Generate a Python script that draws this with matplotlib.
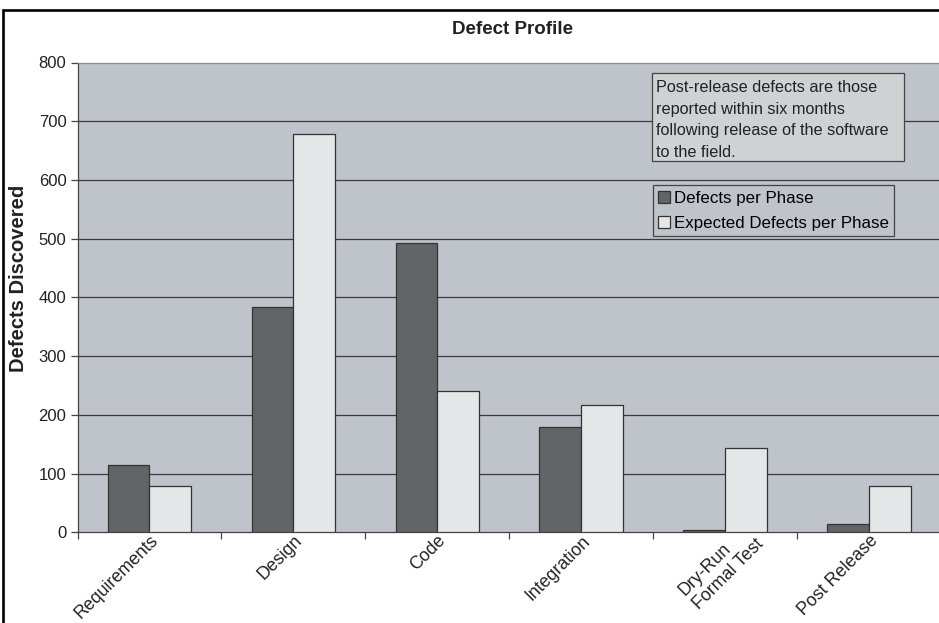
import matplotlib
matplotlib.use("Agg")
import matplotlib.pyplot as plt
from matplotlib.patches import Rectangle
import numpy as np

plt.rcParams['font.family'] = ['Liberation Sans', 'DejaVu Sans']

# phases and defect counts
phases = ["Requirements", "Design", "Code", "Integration", "Dry-Run\nFormal Test", "Post Release"]
defects = [114, 383, 493, 180, 4, 14]
expected = [78, 678, 241, 216, 144, 79]
y_ticks = [0, 100, 200, 300, 400, 500, 600, 700, 800]

W, H = 939, 623
fig = plt.figure(figsize=(W / 100, H / 100), dpi=100)
fig.patch.set_facecolor("white")

# plot area (runs slightly past the right edge)
ax = fig.add_axes([77.5 / W, 1 - 532.3 / H, (941 - 77.5) / W, (532.3 - 62.5) / H])
bg = "#bfc3ca"
ax.set_facecolor(bg)

x = np.arange(len(phases))
bw = 0.29
ax.bar(x - bw / 2, defects, bw, color="#636466", edgecolor="#333333", linewidth=0.9,
       label="Defects per Phase", zorder=3)
ax.bar(x + bw / 2, expected, bw, color="#e5e6e8", edgecolor="#333333", linewidth=0.9,
       label="Expected Defects per Phase", zorder=3)

ax.set_xlim(-0.5, len(phases) - 0.5)
ax.set_ylim(0, 800)
ax.set_yticks(y_ticks)
ax.tick_params(axis="y", direction="out", length=5, width=0.9, color="#444444",
               labelsize=12, pad=3, labelcolor="#222222")
for yv in y_ticks[1:-1]:
    ax.axhline(yv, color="#3a3a3a", linewidth=0.9, zorder=1)

# tick marks sit on the category boundaries
ax.set_xticks(x)
ax.set_xticklabels([])
ax.tick_params(axis="x", which="major", length=0)
ax.set_xticks(np.arange(len(phases) + 1) - 0.5, minor=True)
ax.tick_params(axis="x", which="minor", direction="out", length=5, width=0.9, color="#444444")

# rotated category labels; the two-line one is left aligned and pushed right
for i, lab in enumerate(phases):
    off = (16, 11) if "\n" in lab else (0, 0)
    ax.annotate(lab, xy=(x[i], 0), xycoords=ax.get_xaxis_transform(),
                xytext=off, textcoords="offset pixels",
                rotation=45, rotation_mode="anchor", ha="right", va="top",
                multialignment="left", fontsize=12.8, color="#222222",
                annotation_clip=False)

for s in ["left", "bottom"]:
    ax.spines[s].set_color("#444444")
    ax.spines[s].set_linewidth(0.9)
ax.spines["top"].set_color("#8c8c8c")
ax.spines["top"].set_linewidth(0.9)
ax.spines["right"].set_visible(False)

fig.text(513 / W, 1 - 29 / H, "Defect Profile", ha="center", va="center",
         fontsize=13.5, fontweight="bold", color="#222222")
fig.text(18.5 / W, 1 - 278 / H, "Defects Discovered", ha="center", va="center",
         rotation=90, fontsize=14.5, fontweight="bold", color="#222222")

# note box
fig.patches.append(Rectangle((651.7 / W, 1 - 161 / H), (904 - 651.7) / W, (161 - 73.3) / H,
                             transform=fig.transFigure, facecolor="#d0d1d3",
                             edgecolor="#444444", linewidth=0.9, zorder=5))
fig.text(656.5 / W, 1 - 80 / H,
         "Post-release defects are those\nreported within six months\n"
         "following release of the software\nto the field.",
         ha="left", va="top", fontsize=11.7, linespacing=1.55, color="#222222", zorder=6)

leg = ax.legend(loc="upper left", bbox_to_anchor=(653 / W, 1 - 185.5 / H),
                bbox_transform=fig.transFigure, fontsize=12.2, frameon=True, fancybox=False,
                edgecolor="#444444", facecolor=bg, framealpha=1, borderpad=0.3,
                handlelength=0.7, handleheight=0.7, handletextpad=0.25, labelspacing=0.6,
                borderaxespad=0)
leg.get_frame().set_linewidth(0.9)

# chart area border (left and top edges visible)
fig.patches.append(Rectangle((3 / W, -0.1), 2, 1.1 - 10.5 / H, transform=fig.transFigure,
                             fill=False, edgecolor="black", linewidth=1.9, zorder=10))

fig.savefig("out.png", dpi=100)
